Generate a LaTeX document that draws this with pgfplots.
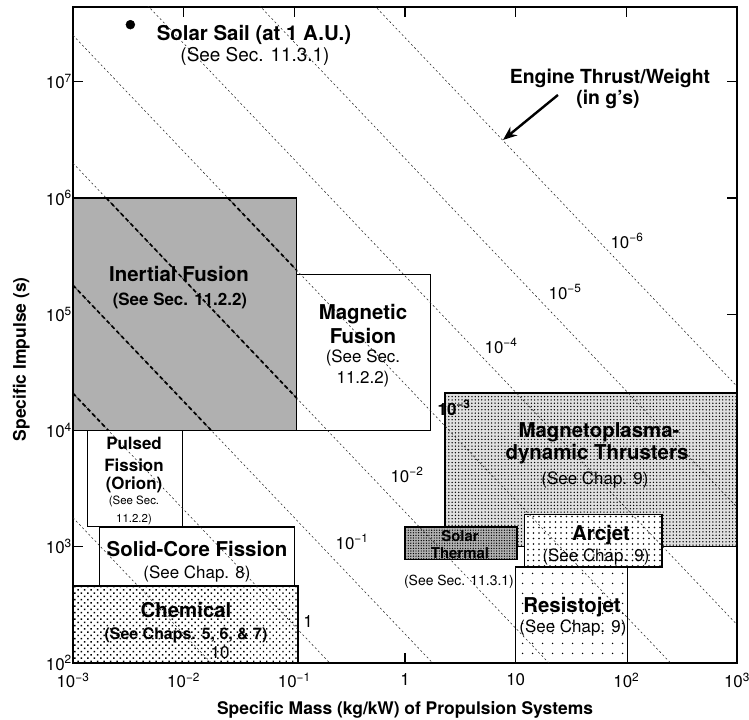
\documentclass[border=0pt]{standalone}
\usepackage{fontspec}
\setmainfont{TeX Gyre Heros}
\usepackage{pgfplots}
\pgfplotsset{compat=1.18}
\usetikzlibrary{patterns.meta,arrows.meta}
\newcommand{\fs}[1]{\fontsize{#1}{#1}\selectfont}
\newcommand{\tsup}[1]{\textsuperscript{#1}}
\begin{document}
\begin{tikzpicture}[
  bl/.style={inner sep=0pt, anchor=center, text depth=0pt, text height=14.8bp, font=\bfseries\fs{20.5}},
  bm/.style={inner sep=0pt, anchor=center, text depth=0pt, text height=12.2bp, font=\bfseries\fs{17}},
  rm/.style={inner sep=0pt, anchor=center, text depth=0pt, text height=12.2bp, font=\fs{17}},
  rl/.style={inner sep=0pt, anchor=center, text depth=0pt, text height=13.7bp, font=\fs{19}},
  rs/.style={inner sep=0pt, anchor=center, text depth=0pt, text height=10.1bp, font=\fs{14}},
  rt/.style={inner sep=0pt, anchor=center, text depth=0pt, text height=8.3bp, font=\fs{11.5}},
  tw/.style={black!85, line width=0.55bp, dash pattern=on 2bp off 2.5bp, mark=none},
  twb/.style={black, line width=1.7bp, dash pattern=on 4bp off 3bp, mark=none},
  bx/.style={draw=black, line width=1.2bp, mark=none},
]
\begin{axis}[
  at={(0,0)}, anchor=south west,
  xmode=log, ymode=log,
  scale only axis, width=664bp, height=656bp,
  xmin=1e-3, xmax=1e3, ymin=1e2, ymax=4.4e7,
  xtick={1e-3,1e-2,1e-1,1,1e1,1e2,1e3},
  xticklabels={10\tsup{−3},10\tsup{−2},10\tsup{−1},1,10,10\tsup{2},10\tsup{3}},
  ytick={1e2,1e3,1e4,1e5,1e6,1e7},
  yticklabels={10\tsup{2},10\tsup{3},10\tsup{4},10\tsup{5},10\tsup{6},10\tsup{7}},
  xminorticks=false, yminorticks=false,
  tick align=inside, major tick length=10bp,
  every tick/.style={black, line width=1.2bp},
  axis line style={line width=1.4bp},
  tick label style={font=\fs{17}},
  xticklabel style={inner sep=0pt, yshift=-10bp},
  yticklabel style={inner sep=0pt, xshift=-1bp},
  xlabel={Specific Mass (kg/kW) of Propulsion Systems},
  ylabel={Specific Impulse (s)},
  xlabel style={at={(axis description cs:0.5,-0.0716)}, anchor=center, font=\bfseries\fs{17.5}},
  ylabel style={at={(axis description cs:-0.078,0.463)}, anchor=center, font=\bfseries\fs{17.5}},
]
% ---- propulsion system regions ----
\addplot[bx, fill=black!31] coordinates {(1e-3,1e4) (0.105,1e4) (0.105,1e6) (1e-3,1e6)} -- cycle;
\addplot[bx, fill=white] coordinates {(0.105,1e4) (1.7,1e4) (1.7,2.2e5) (0.105,2.2e5)} -- cycle;
\addplot[bx, fill=white] coordinates {(1.35e-3,1500) (0.0098,1500) (0.0098,1e4) (1.35e-3,1e4)} -- cycle;
\addplot[bx, fill=white] coordinates {(1.75e-3,460) (0.1,460) (0.1,1480) (1.75e-3,1480)} -- cycle;
\addplot[bx, preaction={fill=white}, pattern={Dots[distance=4.6bp, radius=1bp, angle=45]}] coordinates {(1e-3,100) (0.108,100) (0.108,460) (1e-3,460)} -- cycle;
\addplot[bx, preaction={fill=black!12}, pattern={Dots[distance=3.3bp, radius=0.75bp]}] coordinates {(2.3,1000) (1000,1000) (1000,2.1e4) (2.3,2.1e4)} -- cycle;
\addplot[bx, preaction={fill=black!30}, pattern={Dots[distance=2.6bp, radius=0.7bp]}] coordinates {(1.0,780) (10.3,780) (10.3,1480) (1.0,1480)} -- cycle;
\addplot[bx, preaction={fill=white}, pattern={Dots[distance=5.5bp, radius=0.8bp]}] coordinates {(12,670) (210,670) (210,1900) (12,1900)} -- cycle;
\addplot[bx, preaction={fill=white}, pattern={Dots[distance=9.5bp, radius=0.8bp]}] coordinates {(10,100) (103,100) (103,670) (10,670)} -- cycle;
% ---- engine thrust/weight lines (g's) ----
\addplot[tw] coordinates {(1e-3,1778) (1e3,1.778e-3)};      % 10
\addplot[tw] coordinates {(1e-3,20893) (1e3,0.02089)};      % 1
\addplot[tw] coordinates {(1e-3,177828) (1e3,0.1778)};      % 1e-1
\addplot[tw] coordinates {(1e-3,1.995e6) (1e3,1.995)};      % 1e-2
\addplot[tw] coordinates {(1e-3,2.512e7) (1e3,25.12)};      % 1e-3
\addplot[tw] coordinates {(1e-3,2.138e8) (1e3,213.8)};      % 1e-4
\addplot[tw] coordinates {(1e-3,2.188e9) (1e3,2188)};       % 1e-5
\addplot[tw] coordinates {(1e-3,2.399e10) (1e3,23988)};     % 1e-6
% bold parts inside the inertial fusion region
\addplot[twb] coordinates {(1e-3,20893) (2.09e-3,1e4)};
\addplot[twb] coordinates {(1e-3,177828) (0.0178,1e4)};
\addplot[twb] coordinates {(2.0e-3,1e6) (0.105,19011)};
\addplot[twb] coordinates {(0.0251,1e6) (0.105,239330)};
% ---- solar sail ----
\addplot[only marks, mark=*, mark size=4.5bp, black] coordinates {(3.3e-3,3.1e7)};
% ---- labels ----
\node[bl] at (rel axis cs:0.2726,0.9604) {Solar Sail (at 1 A.U.)};
\node[rl] at (rel axis cs:0.2741,0.9268) {(See Sec. 11.3.1)};
\node[bl, font=\bfseries\fs{19.5}] at (rel axis cs:0.8087,0.8948) {Engine Thrust/Weight};
\node[bl, font=\bfseries\fs{19.5}] at (rel axis cs:0.8057,0.8628) {(in g's)};
\draw[line width=2.4bp, -{Stealth[length=14bp,width=11bp]}] (rel axis cs:0.7304,0.8659) -- (rel axis cs:0.6476,0.7973);
\node[rm] at (rel axis cs:0.8343,0.6418) {10\tsup{−6}};
\node[rm] at (rel axis cs:0.7410,0.5640) {10\tsup{−5}};
\node[rm] at (rel axis cs:0.6446,0.4817) {10\tsup{−4}};
\node[bm] at (rel axis cs:0.5738,0.3872) {10\tsup{−3}};
\node[rm] at (rel axis cs:0.5030,0.2851) {10\tsup{−2}};
\node[rm] at (rel axis cs:0.4202,0.1829) {10\tsup{−1}};
\node[rm] at (rel axis cs:0.3539,0.0640) {1};
\node[rm] at (rel axis cs:0.2214,0.0168) {10};
\node[bl] at (rel axis cs:0.1596,0.5930) {Inertial Fusion};
\node[bm] at (rel axis cs:0.1611,0.5549) {(See Sec. 11.2.2)};
\node[bl] at (rel axis cs:0.4367,0.5351) {Magnetic};
\node[bl] at (rel axis cs:0.4367,0.4985) {Fusion};
\node[rm] at (rel axis cs:0.4367,0.4680) {(See Sec.};
\node[rm] at (rel axis cs:0.4367,0.4360) {11.2.2)};
\node[bm] at (rel axis cs:0.0919,0.3354) {Pulsed};
\node[bm] at (rel axis cs:0.0919,0.3018) {Fission};
\node[bm] at (rel axis cs:0.0919,0.2744) {(Orion)};
\node[rt] at (rel axis cs:0.0919,0.2485) {(See Sec.};
\node[rt] at (rel axis cs:0.0919,0.2210) {11.2.2)};
\node[bl] at (rel axis cs:0.1867,0.1738) {Solid-Core Fission};
\node[rm] at (rel axis cs:0.1867,0.1387) {(See Chap. 8)};
\node[bl] at (rel axis cs:0.1702,0.0808) {Chemical};
\node[bm, font=\bfseries\fs{16}] at (rel axis cs:0.1702,0.0457) {(See Chaps. 5, 6, \& 7)};
\node[bm, font=\bfseries\fs{15}, text height=10.8bp] at (rel axis cs:0.5828,0.1936) {Solar};
\node[bm, font=\bfseries\fs{15}, text height=10.8bp] at (rel axis cs:0.5828,0.1677) {Thermal};
\node[rs] at (rel axis cs:0.5813,0.1265) {(See Sec. 11.3.1)};
\node[bl] at (rel axis cs:0.7922,0.3552) {Magnetoplasma-};
\node[bl] at (rel axis cs:0.7892,0.3216) {dynamic Thrusters};
\node[rm] at (rel axis cs:0.7861,0.2820) {(See Chap. 9)};
\node[bl] at (rel axis cs:0.7952,0.1982) {Arcjet};
\node[rm] at (rel axis cs:0.7877,0.1646) {(See Chap. 9)};
\node[bl] at (rel axis cs:0.7515,0.0884) {Resistojet};
\node[rm] at (rel axis cs:0.7530,0.0564) {(See Chap. 9)};
\end{axis}
\pgfresetboundingbox
\path[use as bounding box] (-73bp,-57bp) rectangle (676bp,663bp);
\end{tikzpicture}
\end{document}
